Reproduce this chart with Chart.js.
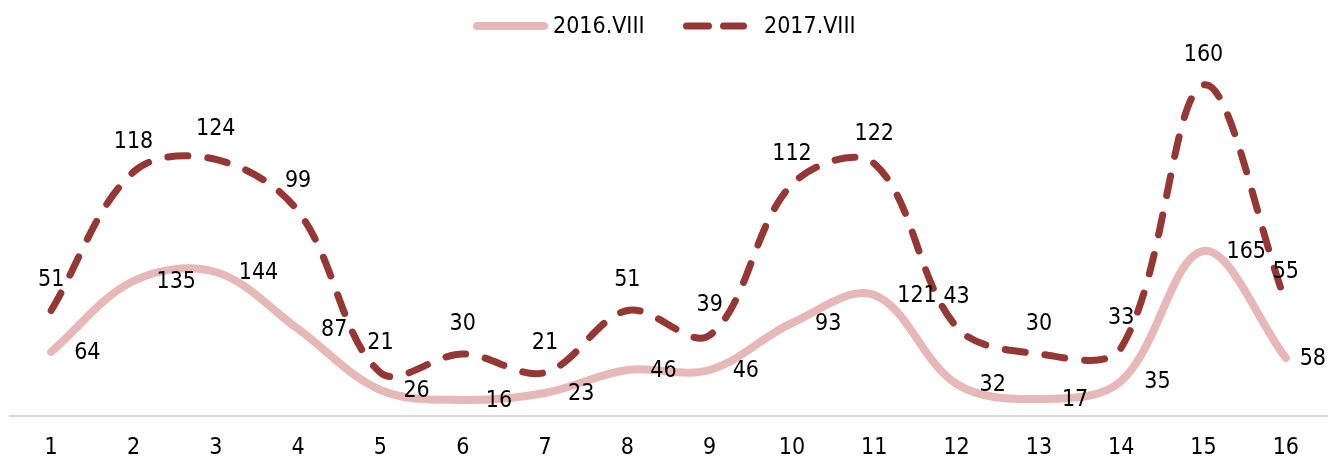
<!DOCTYPE html>
<html><head><meta charset="utf-8">
<script src="https://cdn.jsdelivr.net/npm/chart.js@4.4.1/dist/chart.umd.min.js"></script>
<style>html,body{margin:0;padding:0;background:#fff;overflow:hidden}#wrap{width:1329px;height:457px;position:relative}</style>
</head><body><div id="wrap"><canvas id="c" width="1329" height="457"></canvas></div>
<script>
const categories = ['1','2','3','4','5','6','7','8','9','10','11','12','13','14','15','16'];
const series2016 = [64,135,144,87,26,16,23,46,46,93,121,32,17,35,165,58];
const series2017 = [51,118,124,99,21,30,21,51,39,112,122,43,30,33,160,55];
const seriesNames = ['2016.VIII','2017.VIII'];

function hasFont(name){
  const c=document.createElement('canvas').getContext('2d');
  const t='0123456789.VIII abc';
  c.font='40px monospace'; const a=c.measureText(t).width;
  c.font='40px "'+name+'", monospace'; const b=c.measureText(t).width;
  return a!==b;
}
let FAMILY, FSIZE;
if (hasFont('DejaVu Sans Condensed')) { FAMILY='DejaVu Sans Condensed'; FSIZE=23; }
else { FAMILY='DejaVu Sans'; FSIZE=21; }
const FONT = FSIZE+'px "'+FAMILY+'"';

const PINK='#E6B9B8', DARK='#953735';

const labelPlugin = {
  id:'labels',
  afterDatasetsDraw(chart){
    const ctx=chart.ctx; ctx.save();
    ctx.font=FONT; ctx.fillStyle='#000';
    const maxX = chart.width - 3;
    chart.data.datasets.forEach((ds,i)=>{
      const meta=chart.getDatasetMeta(i);
      meta.data.forEach((pt,j)=>{
        const txt=String(ds.data[j]);
        if(ds.labelPos==='right'){
          const w=ctx.measureText(txt).width;
          let x=pt.x+23;
          if(x+w>maxX) x=maxX-w;
          ctx.textAlign='left'; ctx.textBaseline='middle';
          ctx.fillText(txt, x, pt.y+1);
        } else {
          ctx.textAlign='center'; ctx.textBaseline='middle';
          ctx.fillText(txt, pt.x, pt.y-30);
        }
      });
    });
    ctx.restore();
  }
};

const legendPlugin = {
  id:'customLegend',
  afterDraw(chart){
    const ctx=chart.ctx; ctx.save();
    const y=26;
    ctx.font=FONT; ctx.fillStyle='#000'; ctx.textBaseline='middle'; ctx.textAlign='left';
    const ds=chart.data.datasets;
    ctx.lineCap='round'; ctx.strokeStyle=ds[0].borderColor; ctx.lineWidth=8; ctx.setLineDash([]);
    ctx.beginPath(); ctx.moveTo(477,y); ctx.lineTo(544,y); ctx.stroke();
    ctx.fillText(ds[0].label, 553, y+1);
    ctx.strokeStyle=ds[1].borderColor; ctx.lineWidth=7; ctx.setLineDash([22,15]);
    ctx.beginPath(); ctx.moveTo(686.5,y); ctx.lineTo(743.5,y); ctx.stroke();
    ctx.setLineDash([]);
    ctx.fillText(ds[1].label, 764, y+1);
    ctx.restore();
  }
};

new Chart(document.getElementById('c'), {
  type:'line',
  data:{
    labels:categories,
    datasets:[
      {label:seriesNames[0], data:series2016, borderColor:PINK, backgroundColor:PINK, borderWidth:8,
       borderCapStyle:'round', borderJoinStyle:'round', pointRadius:0, tension:0.35, yAxisID:'y', order:2, labelPos:'right'},
      {label:seriesNames[1], data:series2017, borderColor:DARK, backgroundColor:DARK, borderWidth:7,
       borderDash:[20,20], borderCapStyle:'round', borderJoinStyle:'round', pointRadius:0, tension:0.35, yAxisID:'y2', order:1, labelPos:'above'}
    ]
  },
  options:{
    responsive:false, animation:false, devicePixelRatio:1,
    layout:{padding:{left:10,right:2,top:56,bottom:0}},
    plugins:{legend:{display:false}, tooltip:{enabled:false}},
    scales:{
      x:{offset:true, grid:{display:false, drawTicks:false}, border:{display:true,color:'#D9D9D9',width:2},
         ticks:{font:{family:FAMILY, size:FSIZE}, color:'#000', padding:18, maxRotation:0, autoSkip:false},
         afterFit(scale){ scale.height = 41; }},
      y:{display:false, min:0, max:360},
      y2:{display:false, min:0, max:174, position:'right'}
    }
  },
  plugins:[labelPlugin, legendPlugin]
});
</script></body></html>
